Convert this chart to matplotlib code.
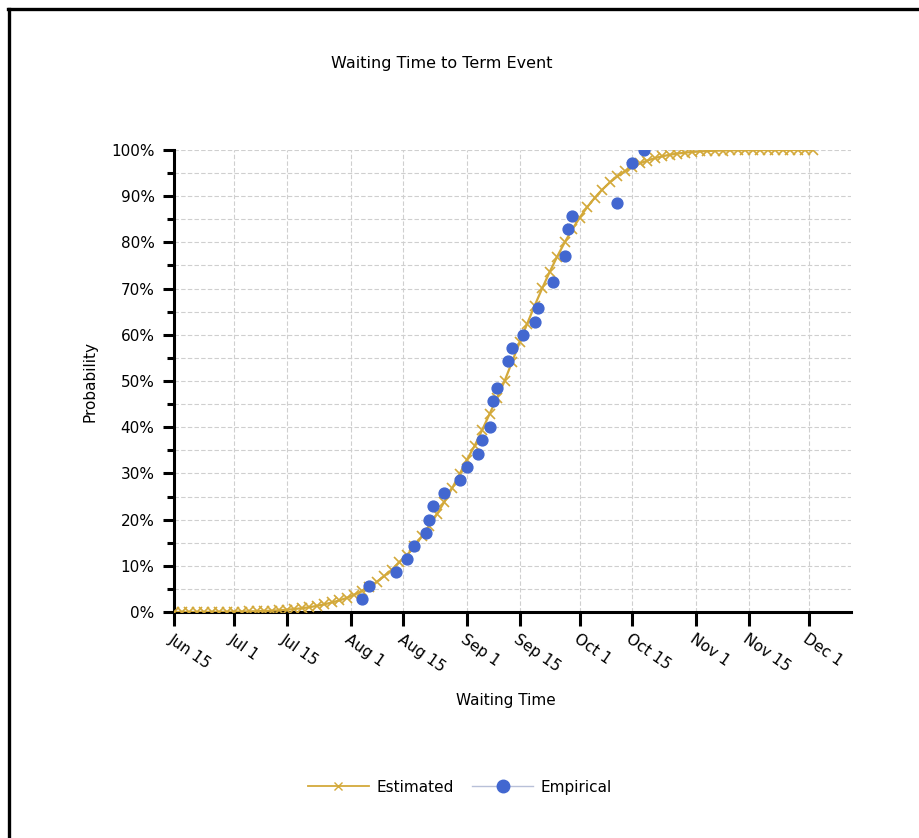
import numpy as np
import matplotlib
matplotlib.use("Agg")
import matplotlib.pyplot as plt
import matplotlib.dates as mdates
from matplotlib.lines import Line2D
from matplotlib.ticker import MultipleLocator, FuncFormatter

# Data: days are counted from Jun 15
start_date = "2009-06-15"
est_day_step = 2
est_pct = [
    0.00, 0.01, 0.01, 0.01, 0.02, 0.03, 0.04, 0.05, 0.07, 0.09,
    0.13, 0.17, 0.23, 0.29, 0.38, 0.49, 0.64, 0.82, 1.04, 1.32,
    1.66, 2.07, 2.50, 3.07, 3.75, 4.55, 5.48, 6.55, 7.78, 9.18,
    10.75, 12.30, 14.23, 16.35, 18.67, 21.19, 23.89, 26.76, 29.81, 33.00,
    35.94, 39.36, 42.86, 46.41, 50.00, 54.19, 58.34, 62.39, 66.31, 70.06,
    73.62, 76.94, 80.01, 82.83, 85.38, 87.65, 89.67, 91.44, 92.97, 94.28,
    95.39, 96.32, 97.09, 97.72, 98.24, 98.65, 98.97, 99.23, 99.42, 99.58,
    99.69, 99.78, 99.84, 99.89, 99.92, 99.94, 99.96, 99.97, 99.98, 99.99,
    99.99, 99.99, 100.0, 100.0, 100.0, 100.0,
]

emp_days = [50, 52, 59, 62, 64, 67, 68, 69, 72, 76, 78, 81, 82, 84, 85, 86,
            89, 90, 93, 96, 97, 101, 104, 105, 106, 118, 122, 125]
emp_pct = [2.86, 5.71, 8.57, 11.43, 14.29, 17.14, 20.00, 22.86, 25.71, 28.57,
           31.43, 34.29, 37.14, 40.00, 45.71, 48.57, 54.29, 57.14, 60.00, 62.86,
           65.71, 71.43, 77.14, 82.86, 85.71, 88.57, 97.14, 100.0]

tick_dates = ["2009-06-15", "2009-07-01", "2009-07-15", "2009-08-01",
              "2009-08-15", "2009-09-01", "2009-09-15", "2009-10-01",
              "2009-10-15", "2009-11-01", "2009-11-15", "2009-12-01"]
tick_labels = ["Jun 15", "Jul 1", "Jul 15", "Aug 1", "Aug 15", "Sep 1",
               "Sep 15", "Oct 1", "Oct 15", "Nov 1", "Nov 15", "Dec 1"]

GOLD = "#D3A93A"
BLUE = "#4267D0"

plt.rcParams["font.family"] = ["DejaVu Sans"]

t0 = mdates.datestr2num(start_date)
est_x = t0 + np.arange(len(est_pct)) * est_day_step
emp_x = t0 + np.array(emp_days)
ticks_x = [mdates.datestr2num(d) for d in tick_dates]

fig = plt.figure(figsize=(9.2, 8.38), dpi=100)
ax = fig.add_axes([174 / 920, 1 - 612 / 838, (851 - 174) / 920, (612 - 150) / 838])

ax.plot(est_x, est_pct, color=GOLD, lw=1.6, marker="x", ms=6.5, mew=1.2, zorder=3)
ax.plot(emp_x, emp_pct, ls="none", marker="o", ms=7.8, color=BLUE, mec=BLUE, zorder=4)

ax.set_xlim(t0, t0 + 180.2)
ax.set_ylim(0, 100)

ax.set_xticks(ticks_x)
ax.set_xticklabels(tick_labels, rotation=-35, ha="left", va="top",
                   rotation_mode="anchor", fontsize=11)
ax.yaxis.set_major_locator(MultipleLocator(10))
ax.yaxis.set_minor_locator(MultipleLocator(5))
ax.yaxis.set_major_formatter(FuncFormatter(lambda v, p: f"{int(v)}%"))
for lab in ax.get_yticklabels():
    lab.set_fontsize(11)

ax.grid(True, which="both", axis="y", color="#cfcfcf", ls=(0, (4, 2)), lw=0.8)
ax.grid(True, which="major", axis="x", color="#cfcfcf", ls=(0, (4, 2)), lw=0.8)
ax.set_axisbelow(True)

for side in ("top", "right"):
    ax.spines[side].set_visible(False)
for side in ("left", "bottom"):
    ax.spines[side].set_linewidth(2.2)

ax.tick_params(axis="y", which="major", length=8, width=2.2, pad=6)
ax.tick_params(axis="y", which="minor", length=5, width=2.2)
ax.tick_params(axis="x", which="major", length=10, width=2.2, pad=4)

ax.set_ylabel("Probability", fontsize=11, labelpad=10)
ax.set_xlabel("Waiting Time", fontsize=11, labelpad=4)
ax.xaxis.set_label_coords(0.49, -0.175)
fig.text(0.48, 1 - 63 / 838, "Waiting Time to Term Event", ha="center",
         va="center", fontsize=11.5)

handles = [
    Line2D([], [], color=GOLD, lw=1.3, marker="x", ms=6, mew=1.0),
    Line2D([], [], color="#b8c0d8", lw=1.0, marker="o", ms=9, mfc=BLUE, mec=BLUE),
]
fig.legend(handles, ["Estimated", "Empirical"], loc="center",
           bbox_to_anchor=(0.5, 1 - 787 / 838), ncol=2, frameon=False,
           fontsize=11, handlelength=4, columnspacing=1.2, handletextpad=0.5)

# frame on the left and top edges of the picture
fig.add_artist(Line2D([9.5 / 920, 9.5 / 920], [0, 1 - 9.5 / 838], color="black",
                      lw=2.4, transform=fig.transFigure))
fig.add_artist(Line2D([8 / 920, 1], [1 - 9.5 / 838, 1 - 9.5 / 838], color="black",
                      lw=2.4, transform=fig.transFigure))

fig.savefig("out.png", dpi=100)
